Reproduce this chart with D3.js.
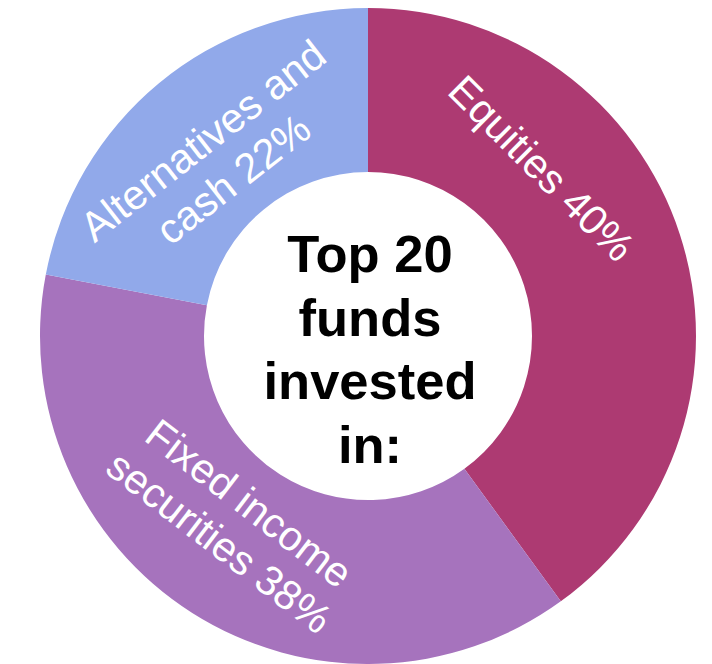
<!DOCTYPE html>
<html>
<head>
<meta charset="utf-8">
<script src="https://cdn.jsdelivr.net/npm/d3@7"></script>
<style>
    body { margin: 0; background: #fff; }
    svg { display: block; font-family: "Liberation Sans", Arial, sans-serif; }
</style>
</head>
<body>
<div id="chart"></div>
<script>
// Donut: share of holdings for the top 20 funds

const categories = ['Equities', 'Fixed income securities', 'Alternatives and cash'];
const shares = [40, 38, 22];
const labelLines = [
    ['Equities 40%'],
    ['Fixed income', 'securities 38%'],
    ['Alternatives and', 'cash 22%']
];
const centerLines = ['Top 20', 'funds', 'invested', 'in:'];

const colors = ['#ad3a72', '#a673bd', '#91a9ea'];

// label placement (angle from 12 o'clock in degrees, radius, text rotation)
const labelLayout = [
    { angle: 46, r: 242, rotate: 45 },
    { angle: 215.6, r: 229, rotate: 37.5 },
    { angle: -40.4, r: 232, rotate: -38 }
];

function drawDonut() {
    const width = 712, height = 664;
    const cx = 368, cy = 336;
    const outerR = 328, innerR = 164;

    const svg = d3.select('#chart').append('svg')
        .attr('width', width)
        .attr('height', height);

    const g = svg.append('g')
        .attr('transform', `translate(${cx},${cy})`);

    const data = categories.map((c, i) => ({ name: c, value: shares[i], lines: labelLines[i] }));

    const pie = d3.pie()
        .sort(null)
        .value(d => d.value);

    const arc = d3.arc()
        .innerRadius(innerR)
        .outerRadius(outerR);

    const arcs = pie(data);

    g.selectAll('path.slice')
        .data(arcs)
        .enter()
        .append('path')
        .attr('class', 'slice')
        .attr('d', arc)
        .attr('fill', (d, i) => colors[i]);

    // Slice labels
    const labels = g.selectAll('g.label')
        .data(arcs)
        .enter()
        .append('g')
        .attr('class', 'label')
        .attr('transform', (d, i) => {
            const l = labelLayout[i];
            const [x, y] = d3.pointRadial(l.angle * Math.PI / 180, l.r);
            return `translate(${x},${y}) rotate(${l.rotate})`;
        });

    labels.each(function (d) {
        const lines = d.data.lines;
        const lh = 49;
        const t = d3.select(this).append('text')
            .attr('text-anchor', 'middle')
            .attr('dominant-baseline', 'central')
            .attr('fill', '#fff')
            .attr('font-size', '41.5px');
        lines.forEach((line, j) => {
            t.append('tspan')
                .attr('x', 0)
                .attr('y', (j - (lines.length - 1) / 2) * lh)
                .text(line);
        });
    });

    // Center text
    const center = g.append('text')
        .attr('text-anchor', 'middle')
        .attr('font-weight', 'bold')
        .attr('font-size', '52.5px')
        .attr('fill', '#000');

    centerLines.forEach((line, j) => {
        center.append('tspan')
            .attr('x', 2)
            .attr('y', -64 + j * 63.5)
            .text(line);
    });
}

drawDonut();
</script>
</body>
</html>
